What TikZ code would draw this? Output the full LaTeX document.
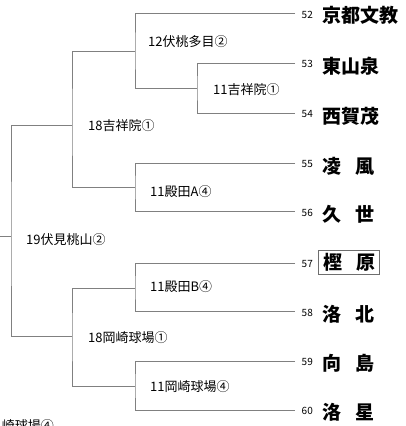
\documentclass[tikz,border=0pt]{standalone}
\usepackage{fontspec}
\newfontfamily\jp{Noto Sans CJK JP}
\definecolor{linegray}{RGB}{128,128,128}
\definecolor{boxgray}{RGB}{110,110,110}
\begin{document}
\begin{tikzpicture}[x=1pt,y=-1pt,
  br/.style={draw=linegray,line width=0.8pt},
  lbl/.style={anchor=west,inner sep=0pt,font=\jp\fontsize{13}{14}\selectfont},
  num/.style={anchor=west,inner sep=0pt,font=\jp\fontsize{10}{11}\selectfont},
  team/.style={anchor=west,inner sep=0pt,font=\jp\bfseries\fontsize{19}{20}\selectfont},
  teambox/.style={anchor=west,draw=boxgray,line width=0.7pt,inner xsep=4.5pt,inner ysep=0pt,minimum height=24pt,font=\jp\bfseries\fontsize{19}{20}\selectfont}]
\useasboundingbox (0,0) rectangle (406,426);
\clip (0,0) rectangle (406,426);
% leaf ends
\coordinate (l52) at (295,13.5);
\coordinate (l53) at (295,63);
\coordinate (l54) at (295,113);
\coordinate (l55) at (295,163.3);
\coordinate (l56) at (295,211.7);
\coordinate (l57) at (295,263.3);
\coordinate (l58) at (295,311.7);
\coordinate (l59) at (295,361);
\coordinate (l60) at (295,410);
% junctions
\coordinate (j11a) at (197,88);
\coordinate (j12) at (135,51);
\coordinate (j11A) at (135,187.5);
\coordinate (j18a) at (72,125);
\coordinate (j11B) at (135,288);
\coordinate (j11C) at (135,386);
\coordinate (j18b) at (72,336.7);
\coordinate (j19) at (11,236.7);
\coordinate (in) at (0,236.7);
% brackets
\draw[br] (l53) -| (j11a) |- (l54);
\draw[br] (l52) -| (j12) |- (j11a);
\draw[br] (l55) -| (j11A) |- (l56);
\draw[br] (j12) -| (j18a) |- (j11A);
\draw[br] (l57) -| (j11B) |- (l58);
\draw[br] (l59) -| (j11C) |- (l60);
\draw[br] (j11B) -| (j18b) |- (j11C);
\draw[br] (j18a) -| (j19) |- (j18b);
\draw[br] (in) -- (j19);
% match labels
\node[lbl] (t12) at (148,41.7) {12伏桃多目②};
\node[lbl] (t11a) at (213,90) {11吉祥院①};
\node[lbl] (t18a) at (88,126) {18吉祥院①};
\node[lbl] (t11A) at (150,191.7) {11殿田A④};
\node[lbl] (t19) at (26,240) {19伏見桃山②};
\node[lbl] (t11B) at (150,287) {11殿田B④};
\node[lbl] (t18b) at (88,337.7) {18岡崎球場①};
\node[lbl] (t11C) at (150,386.7) {11岡崎球場④};
\node[lbl,anchor=east] (tcut) at (54,426) {崎球場④};
% numbers
\node[num] (n52) at (301.5,14.5) {52};
\node[num] (n53) at (301.5,64) {53};
\node[num] (n54) at (301.5,114) {54};
\node[num] (n55) at (301.5,164.3) {55};
\node[num] (n56) at (301.5,212.7) {56};
\node[num] (n57) at (301.5,264.3) {57};
\node[num] (n58) at (301.5,312.7) {58};
\node[num] (n59) at (301.5,362) {59};
\node[num] (n60) at (301.5,411) {60};
% teams
\node[team] (s52) at (322.5,15.5) {京都文教};
\node[team] (s53) at (322.5,66) {東山泉};
\node[team] (s54) at (322.5,116) {西賀茂};
\node[team] (s55) at (322.5,166) {凌\hspace{14pt}風};
\node[team] (s56) at (322.5,214) {久\hspace{14pt}世};
\node[teambox] (s57) at (318.3,262.2) {樫\hspace{14pt}原};
\node[team] (s58) at (322.5,314) {洛\hspace{14pt}北};
\node[team] (s59) at (322.5,363.5) {向\hspace{14pt}島};
\node[team] (s60) at (322.5,412.5) {洛\hspace{14pt}星};
\end{tikzpicture}
\end{document}
